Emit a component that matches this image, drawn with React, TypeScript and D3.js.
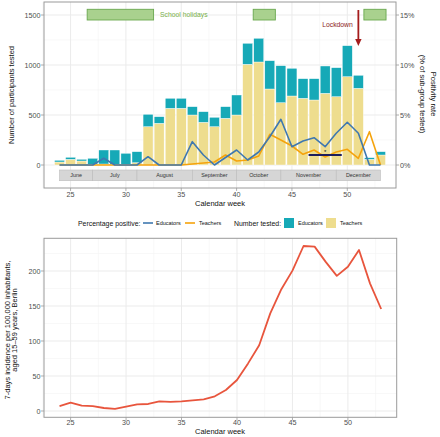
import React from "react";
import * as d3 from "d3";

const weeks = [24,25,26,27,28,29,30,31,32,33,34,35,36,37,38,39,40,41,42,43,44,45,46,47,48,49,50,51,52,53];
const teachersTested = [30,57,40,8,10,5,8,23,383,417,567,567,500,427,383,467,500,1007,1030,760,623,690,667,650,717,683,883,767,57,100];
const educatorsTested = [17,20,17,59,140,145,109,110,124,66,100,100,83,106,94,116,200,210,237,283,370,277,196,213,273,290,310,130,16,33];
const educatorsPct = [0,0,0,0,0.67,0,0,0,0.83,0,0,0,2.33,1.0,0,0.75,1.5,0.5,1.3,2.83,4.57,1.83,2.4,2.73,1.83,3.17,4.27,3.17,0,0];
const teachersPct = [0,0,0,0,0,0,0,0,0,0,0,0,0.1,0.2,0.3,1.0,0.4,0.5,0.9,3.07,2.5,1.9,1.07,1.5,0.8,1.3,1.57,0.67,3.33,0];
const incidence = [7.1,11.9,7.6,7,4.3,2.9,6.2,9.5,10,13.8,12.9,13.8,15.2,16.7,21,30,44.3,68,94,139.5,174,200.5,235.7,234.8,213,193,206,230,182,145.7];

const months = ["June","July","August","September","October","November","December"];
const monthStarts = [24,27,31,36,40,44,49];
const monthEnds = [27,31,36,40,44,49,53];
const holidayStarts = [26.5,41.5,51.5];
const holidayEnds = [32.5,43.5,53.5];

const xTicks = [25,30,35,40,45,50];
const countTicks = [0,500,1000,1500];
const pctTicks = [0,5,10,15];
const incTicks = [0,50,100,150,200];

const FONT = "Liberation Sans, Arial, sans-serif";
const TEAL = "#16A9B7";
const YELLOW = "#EEDD8E";
const BLUE = "#3F78B0";
const ORANGE = "#F5A30C";
const RED = "#E8553D";
const GRID = "#ebebeb";
const GRIDMINOR = "#f4f4f4";
const BORDER = "#9a9a9a";
const TICKTXT = "#4d4d4d";
const TICKFS = 7.2;
const TITLEFS = 7.5;

export default function App() {
  // top panel
  const L = 44, R = 396, T = 2, B = 188;
  const x = d3.scaleLinear().domain([22.6, 54.4]).range([L, R]);
  const y = d3.scaleLinear().domain([-230, 1630]).range([B, T]);
  const yPct = (p: number) => y(p * 100);
  const bw = 0.9;

  // bottom panel
  const T2 = 238.3, B2 = 417.3, R2 = 396.7;
  const x2 = d3.scaleLinear().domain([22.6, 54.4]).range([L, R2]);
  const y2 = d3.scaleLinear().domain([-9, 246.7]).range([B2, T2]);

  const lineE = d3.line<number>().x((_, i) => x(weeks[i])).y((d) => yPct(d));
  const lineInc = d3.line<number>().x((_, i) => x2(weeks[i])).y((d) => y2(d));

  const minorX = [22.5, 27.5, 32.5, 37.5, 42.5, 47.5, 52.5];
  const minorY = [250, 750, 1250];
  const minorY2 = [25, 75, 125, 175, 225];

  return (
    <svg width={440} height={437} style={{ position: "absolute", left: 0, top: 0, background: "#fff" }} fontFamily={FONT}>
      {/* ===== top panel ===== */}
      <rect x={L} y={T} width={R - L} height={B - T} fill="#fff" />
      {minorX.map((w) => (
        <line key={"mx" + w} x1={x(w)} x2={x(w)} y1={T} y2={B} stroke={GRIDMINOR} strokeWidth={0.6} />
      ))}
      {minorY.map((v) => (
        <line key={"my" + v} x1={L} x2={R} y1={y(v)} y2={y(v)} stroke={GRIDMINOR} strokeWidth={0.6} />
      ))}
      {xTicks.map((w) => (
        <line key={"gx" + w} x1={x(w)} x2={x(w)} y1={T} y2={B} stroke={GRID} strokeWidth={1} />
      ))}
      {countTicks.map((v) => (
        <line key={"gy" + v} x1={L} x2={R} y1={y(v)} y2={y(v)} stroke={GRID} strokeWidth={1} />
      ))}

      {/* bars */}
      {weeks.map((w, i) => (
        <g key={"b" + w}>
          <rect x={x(w - bw / 2)} y={y(teachersTested[i])} width={x(w + bw / 2) - x(w - bw / 2)}
            height={y(0) - y(teachersTested[i])} fill={YELLOW} stroke="#fff" strokeWidth={0.4} />
          <rect x={x(w - bw / 2)} y={y(teachersTested[i] + educatorsTested[i])} width={x(w + bw / 2) - x(w - bw / 2)}
            height={y(teachersTested[i]) - y(teachersTested[i] + educatorsTested[i])} fill={TEAL} stroke="#fff" strokeWidth={0.4} />
        </g>
      ))}

      {/* lines */}
      <path d={lineE(teachersPct) || ""} fill="none" stroke={ORANGE} strokeWidth={1.6} strokeLinejoin="round" />
      <path d={lineE(educatorsPct) || ""} fill="none" stroke={BLUE} strokeWidth={1.6} strokeLinejoin="round" />

      {/* significance bar */}
      <line x1={x(46.5)} x2={x(49.5)} y1={yPct(1.0)} y2={yPct(1.0)} stroke="#1d1d5c" strokeWidth={2} />
      <text x={x(48)} y={yPct(1.0) - 1.5} fontSize={6} textAnchor="middle" fill="#111">*</text>

      {/* month strip */}
      {months.map((m, i) => (
        <g key={m}>
          <rect x={x(monthStarts[i])} y={170} width={x(monthEnds[i]) - x(monthStarts[i])} height={10.7}
            fill="#d6d6d6" stroke="#bdbdbd" strokeWidth={0.6} />
          <text x={(x(monthStarts[i]) + x(monthEnds[i])) / 2} y={177.3} fontSize={5.4} textAnchor="middle" fill="#333">{m}</text>
        </g>
      ))}

      {/* holidays */}
      {holidayStarts.map((s, i) => (
        <rect key={"h" + s} x={x(s)} y={y(1557)} width={x(holidayEnds[i]) - x(s)} height={y(1450) - y(1557)}
          fill="#A9D18E" stroke="#6AA84F" strokeWidth={0.9} />
      ))}
      <text x={160} y={16.6} fontSize={6.8} fill="#79B04A">School holidays</text>

      {/* lockdown */}
      <text x={337.5} y={27.4} fontSize={6.8} textAnchor="middle" fill="#8B1A1A">Lockdown</text>
      <line x1={x(51)} x2={x(51)} y1={10} y2={41} stroke="#A51C1C" strokeWidth={1.8} />
      <path d={`M${x(51) - 3.2},${39} L${x(51) + 3.2},${39} L${x(51)},${46} Z`} fill="#A51C1C" />

      <rect x={L} y={T} width={R - L} height={B - T} fill="none" stroke={BORDER} strokeWidth={1} />

      {/* left axis */}
      {countTicks.map((v) => (
        <g key={"ly" + v}>
          <line x1={L - 3} x2={L} y1={y(v)} y2={y(v)} stroke={BORDER} strokeWidth={0.8} />
          <text x={L - 3.5} y={y(v) + 2.6} fontSize={TICKFS} textAnchor="end" fill={TICKTXT}>{v}</text>
        </g>
      ))}
      {/* right axis */}
      {pctTicks.map((v) => (
        <g key={"ry" + v}>
          <line x1={R} x2={R + 3} y1={yPct(v)} y2={yPct(v)} stroke={BORDER} strokeWidth={0.8} />
          <text x={R + 4} y={yPct(v) + 2.6} fontSize={TICKFS} textAnchor="start" fill={TICKTXT}>{v}%</text>
        </g>
      ))}
      {/* x axis */}
      {xTicks.map((w) => (
        <g key={"tx" + w}>
          <line x1={x(w)} x2={x(w)} y1={B} y2={B + 3} stroke={BORDER} strokeWidth={0.8} />
          <text x={x(w)} y={196.8} fontSize={TICKFS} textAnchor="middle" fill={TICKTXT}>{w}</text>
        </g>
      ))}
      <text x={220} y={206} fontSize={TITLEFS} textAnchor="middle" fill="#111">Calendar week</text>
      <text transform="translate(14.3,95) rotate(-90)" fontSize={TITLEFS} textAnchor="middle" fill="#111">Number of participants tested</text>
      <text transform="translate(430.5,94) rotate(90)" fontSize={TITLEFS} textAnchor="middle" fill="#111">
        <tspan x={0} dy={0}>Positivity rate</tspan>
        <tspan x={0} dy={10.3}>(% of sub-group tested)</tspan>
      </text>

      {/* legend */}
      <text x={78} y={225.5} fontSize={6.9} fill="#111">Percentage positive:</text>
      <line x1={143} x2={153} y1={223} y2={223} stroke={BLUE} strokeWidth={1.6} />
      <text x={156} y={225} fontSize={5.5} fill="#111">Educators</text>
      <line x1={185} x2={195} y1={223} y2={223} stroke={ORANGE} strokeWidth={1.6} />
      <text x={199} y={225} fontSize={5.5} fill="#111">Teachers</text>
      <text x={234} y={225.5} fontSize={6.9} fill="#111">Number tested:</text>
      <rect x={284} y={218} width={10} height={10} fill={TEAL} />
      <text x={298} y={225} fontSize={5.5} fill="#111">Educators</text>
      <rect x={326} y={218} width={10} height={10} fill={YELLOW} />
      <text x={340} y={225} fontSize={5.5} fill="#111">Teachers</text>

      {/* ===== bottom panel ===== */}
      <rect x={L} y={T2} width={R2 - L} height={B2 - T2} fill="#fff" />
      {minorX.map((w) => (
        <line key={"mx2" + w} x1={x2(w)} x2={x2(w)} y1={T2} y2={B2} stroke={GRIDMINOR} strokeWidth={0.6} />
      ))}
      {minorY2.map((v) => (
        <line key={"my2" + v} x1={L} x2={R2} y1={y2(v)} y2={y2(v)} stroke={GRIDMINOR} strokeWidth={0.6} />
      ))}
      {xTicks.map((w) => (
        <line key={"gx2" + w} x1={x2(w)} x2={x2(w)} y1={T2} y2={B2} stroke={GRID} strokeWidth={1} />
      ))}
      {incTicks.map((v) => (
        <line key={"gy2" + v} x1={L} x2={R2} y1={y2(v)} y2={y2(v)} stroke={GRID} strokeWidth={1} />
      ))}
      <path d={lineInc(incidence) || ""} fill="none" stroke={RED} strokeWidth={1.8} strokeLinejoin="round" />
      <rect x={L} y={T2} width={R2 - L} height={B2 - T2} fill="none" stroke={BORDER} strokeWidth={1} />
      {incTicks.map((v) => (
        <g key={"ly2" + v}>
          <line x1={L - 3} x2={L} y1={y2(v)} y2={y2(v)} stroke={BORDER} strokeWidth={0.8} />
          <text x={L - 3.5} y={y2(v) + 2.6} fontSize={TICKFS} textAnchor="end" fill={TICKTXT}>{v}</text>
        </g>
      ))}
      {xTicks.map((w) => (
        <g key={"tx2" + w}>
          <line x1={x2(w)} x2={x2(w)} y1={B2} y2={B2 + 3} stroke={BORDER} strokeWidth={0.8} />
          <text x={x2(w)} y={425.2} fontSize={TICKFS} textAnchor="middle" fill={TICKTXT}>{w}</text>
        </g>
      ))}
      <text x={220} y={434.4} fontSize={TITLEFS} textAnchor="middle" fill="#111">Calendar week</text>
      <text transform="translate(9.5,330) rotate(-90)" fontSize={TITLEFS} textAnchor="middle" fill="#111">
        <tspan x={0} dy={0}>7-days incidence per 100,000 inhabitants,</tspan>
        <tspan x={0} dy={7.8}>aged 15–59 years, Berlin</tspan>
      </text>
    </svg>
  );
}
